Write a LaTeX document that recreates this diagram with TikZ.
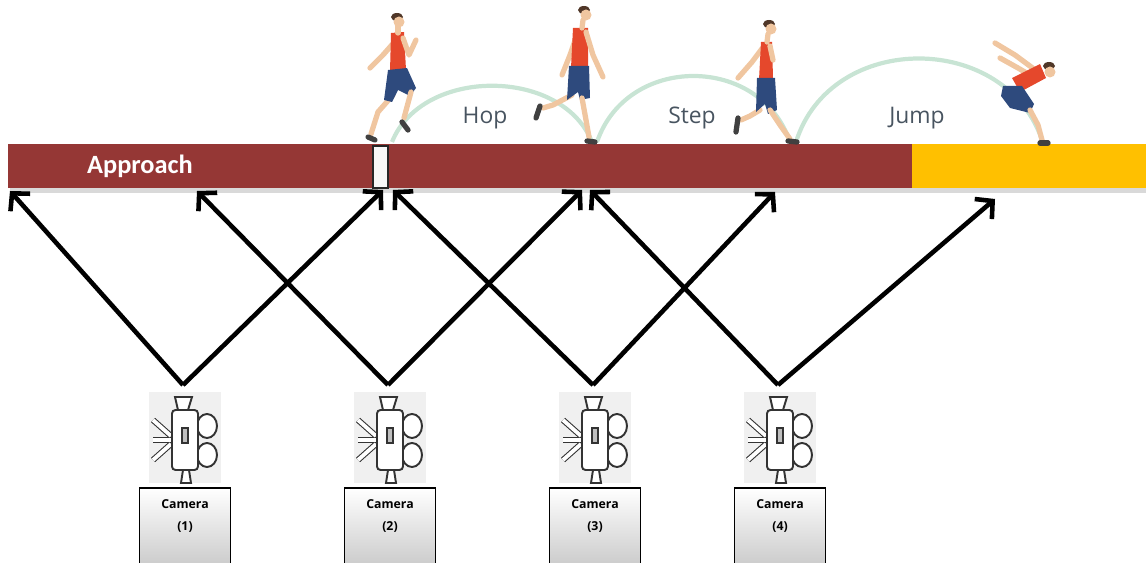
\documentclass[tikz,border=0pt]{standalone}
\usepackage{fontspec}
\setmainfont{Open Sans}
\newfontfamily\calibri{Carlito}
\usetikzlibrary{arrows.meta,positioning}
\definecolor{TrackRed}{RGB}{149,55,53}
\definecolor{PitYellow}{RGB}{255,192,0}
\definecolor{ArcGreen}{RGB}{200,228,212}
\definecolor{LabelGray}{RGB}{72,84,96}
\definecolor{Vest}{RGB}{229,72,44}
\definecolor{Shorts}{RGB}{46,74,125}
\definecolor{Skin}{RGB}{240,198,160}
\definecolor{Hair}{RGB}{80,55,40}

\begin{document}
\begin{tikzpicture}[x=0.02cm,y=-0.02cm,
    view/.style={-{Straight Barb[length=7pt,width=15pt]},line width=2.6pt},
    hoparc/.style={ArcGreen,line width=2.4pt},
    phase/.style={font=\fontsize{13}{15}\selectfont,text=LabelGray},
    limb/.style={Skin,line width=3pt,line cap=round,line join=round},
    shoe/.style={black!75,line width=3pt,line cap=round},
    icon/.style={black!80,line width=1.1pt,fill=white},
    cambox/.style={draw=black,line width=0.8pt,top color=white,bottom color=black!22,
                   minimum width=1.82cm,minimum height=1.68cm},
    camtext/.style={font=\bfseries\fontsize{7}{12}\selectfont,align=center}
  ]
  \useasboundingbox (0,0) rectangle (1146,563);

  % runway and pit
  \fill[black!15] (10,188) rectangle (1146,193);
  \fill[TrackRed] (8,144) rectangle (912,188);
  \fill[PitYellow] (912,144) rectangle (1146,188);
  \draw[black!85,fill=black!3,line width=0.8pt] (373,146) rectangle (388,188);
  \node[font=\calibri\bfseries\fontsize{15}{17}\selectfont,text=white] (approach) at (140,166) {Approach};

  % flight arcs
  \draw[hoparc] (392,142) .. controls +(30,-75) and +(-30,-75) .. (592,142);
  \draw[hoparc] (597,142) .. controls +(30,-88) and +(-30,-88) .. (790,142);
  \draw[hoparc] (796,142) .. controls +(35,-112) and +(-35,-112) .. (1043,143);
  \node[phase] (hop) at (485,118) {Hop};
  \node[phase] (step) at (692,118) {Step};
  \node[phase] (jump) at (917,118) {Jump};

  % runner at the board
  \draw[limb] (398,38) -- (383,55) -- (370,68);
  \draw[limb] (393,95) -- (378,112) -- (371,134);
  \draw[shoe] (368,137) -- (375,140);
  \fill[Vest] (391,33) -- (404,32) -- (406,70) -- (390,72) -- cycle;
  \fill[Shorts] (388,70) -- (407,68) -- (416,88) -- (410,96) -- (398,90) -- (392,102) -- (384,100) -- cycle;
  \draw[limb] (411,92) -- (404,118);
  \draw[shoe] (402,122) -- (408,130);
  \draw[limb] (403,38) -- (409,55) -- (416,40);
  \draw[limb] (398,26) -- (398,33);
  \fill[Hair] (397,17) ellipse (6 and 4);
  \fill[Skin] (399,22) circle (5.5);

  % runner on the hop
  \draw[limb] (578,32) -- (570,55) -- (562,75);
  \draw[limb] (572,95) -- (553,105) -- (543,108);
  \draw[shoe] (540,106) -- (536,118);
  \fill[Vest] (573,28) -- (588,28) -- (588,67) -- (571,68) -- cycle;
  \fill[Shorts] (569,66) -- (589,66) -- (590,98) -- (580,100) -- (578,92) -- (567,100) -- cycle;
  \draw[limb] (582,98) -- (586,120) -- (589,137);
  \draw[shoe] (587,141) -- (595,142);
  \draw[limb] (586,32) -- (593,55) -- (603,77);
  \draw[limb] (583,20) -- (582,28);
  \fill[Hair] (584,10) ellipse (6 and 4);
  \fill[Skin] (586,15) circle (5.5);

  % runner on the step
  \draw[limb] (764,46) -- (752,62) -- (738,78);
  \draw[limb] (760,110) -- (750,116) -- (741,120);
  \draw[shoe] (738,118) -- (736,132);
  \fill[Vest] (761,42) -- (772,42) -- (773,78) -- (759,80) -- cycle;
  \fill[Shorts] (757,78) -- (775,78) -- (777,110) -- (768,114) -- (765,104) -- (756,112) -- cycle;
  \draw[limb] (770,110) -- (780,125) -- (790,139);
  \draw[shoe] (788,141) -- (797,142);
  \draw[limb] (770,46) -- (773,60);
  \draw[limb] (768,34) -- (767,42);
  \fill[Hair] (769,24) ellipse (6 and 4);
  \fill[Skin] (771,29) circle (5.5);

  % runner landing in the pit
  \draw[limb] (1038,72) -- (1015,55) -- (995,43);
  \draw[limb] (1035,78) -- (1018,68) -- (1000,58);
  \fill[Vest] (1012,78) -- (1040,64) -- (1046,78) -- (1020,92) -- cycle;
  \fill[Shorts] (1003,86) -- (1022,86) -- (1034,104) -- (1030,113) -- (1010,108) -- (1001,96) -- cycle;
  \draw[limb] (1030,110) -- (1038,125) -- (1042,140);
  \draw[shoe] (1040,143) -- (1048,143);
  \fill[Hair] (1049,66) ellipse (6 and 4);
  \fill[Skin] (1050,72) circle (5.5);

  % cameras
  \foreach \cx/\n in {183/1,388/2,593/3,778/4}{
    \coordinate (cam\n) at (\cx,385);
    \begin{scope}[shift={(\cx,0)}]
      \fill[black!6] (-34,392) rectangle (38,483);
      \draw[icon,double=white,line width=0.6pt,double distance=2.2pt]
        (-12,436) -- (-30,420) (-12,440) -- (-30,440) (-12,444) -- (-30,460);
      \draw[icon] (-8,397) -- (9,397) -- (5,410) -- (-5,410) -- cycle;
      \draw[icon] (0,470) -- (6,470) -- (8,483) -- (-2,483) -- cycle;
      \draw[icon] (24,426) ellipse (10 and 12) (24,455) ellipse (10 and 12);
      \draw[icon,rounded corners=2pt] (-11,410) rectangle (15,470);
      \draw[icon,fill=black!25] (-1,428) rectangle (5,443);
    \end{scope}
    \node[cambox] (box\n) at (\cx+2,530) {};
    \node[camtext] (lbl\n) at (\cx+2,516) {Camera\\(\n)};
  }

  % points on the runway seen by the cameras
  \coordinate (p0) at (10,191);
  \coordinate (p1) at (197,191);
  \coordinate (p2a) at (383,190);
  \coordinate (p2b) at (393,190);
  \coordinate (p3a) at (582,190);
  \coordinate (p3b) at (590,190);
  \coordinate (p4) at (775,192);
  \coordinate (p5) at (995,199);

  \draw[view] (cam1) -- (p0);
  \draw[view] (cam1) -- (p2a);
  \draw[view] (cam2) -- (p1);
  \draw[view] (cam2) -- (p3a);
  \draw[view] (cam3) -- (p2b);
  \draw[view] (cam3) -- (p4);
  \draw[view] (cam4) -- (p3b);
  \draw[view] (cam4) -- (p5);
\end{tikzpicture}
\end{document}
